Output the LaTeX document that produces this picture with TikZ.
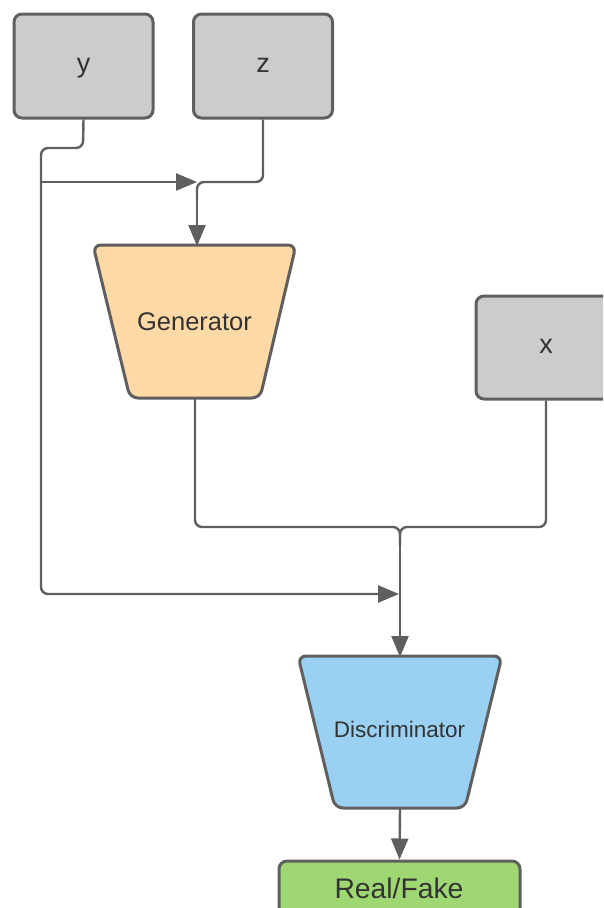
\documentclass[tikz,border=0pt]{standalone}
\usepackage{fontspec}
\setmainfont{Liberation Sans}
\usetikzlibrary{arrows.meta}
\definecolor{edge}{HTML}{5F5F5F}
\definecolor{inbox}{HTML}{CCCCCC}
\definecolor{genfill}{HTML}{FFD9A6}
\definecolor{disfill}{HTML}{9AD1F2}
\definecolor{outfill}{HTML}{9FD872}
\definecolor{txt}{HTML}{333333}
\tikzset{
  inputbox/.style={draw=edge, fill=inbox, line width=3pt, rounded corners=8pt,
    minimum width=139pt, minimum height=104pt, inner sep=0pt},
  netshape/.style={draw=edge, line width=3pt, rounded corners=8pt},
  wire/.style={draw=edge, line width=2.4pt, rounded corners=7pt},
  arrowwire/.style={wire, -{Triangle[length=21pt,width=17pt]}},
  lbl/.style={text=txt, inner sep=0pt, anchor=base}
}
\begin{document}
\begin{tikzpicture}[x=1pt,y=-1pt]
\useasboundingbox (0,0) rectangle (603,908);
\begin{scope}
\clip (0,0) rectangle (603,908);
% input boxes
\node[inputbox] (ybox) at (83.5,66) {};
\node[lbl, font=\fontsize{27}{30}\selectfont] (y) at (83.5,72) {y};
\node[inputbox] (zbox) at (263,66) {};
\node[lbl, font=\fontsize{27}{30}\selectfont] (z) at (263,72) {z};
\node[inputbox, minimum width=140pt, minimum height=103pt] (xbox) at (546,347.5) {};
\node[lbl, font=\fontsize{27}{30}\selectfont] (x) at (546,353) {x};
% generator
\draw[netshape, fill=genfill] (93,245) -- (296,245) -- (260,398) -- (130,398) -- cycle;
\coordinate (gentop) at (197,245);
\coordinate (genbot) at (195,398);
\node[lbl, font=\fontsize{25.5}{30}\selectfont] (gen) at (194.5,330) {Generator};
% discriminator
\draw[netshape, fill=disfill] (298,656) -- (502,656) -- (465,808) -- (335,808) -- cycle;
\coordinate (distop) at (400,656);
\coordinate (disbot) at (400,808);
\node[lbl, font=\fontsize{22.5}{26}\selectfont] (dis) at (399.5,737) {Discriminator};
% output
\node[inputbox, fill=outfill, minimum width=241pt, minimum height=57pt] (outbox) at (399.5,889.5) {};
\node[lbl, font=\fontsize{28.3}{32}\selectfont] (out) at (399,898) {Real/Fake};
% junction points
\coordinate (gj) at (197,182);
\coordinate (dj) at (400,527);
\coordinate (yj) at (41,182);
\coordinate (yd) at (399,594);
% condition y: to the generator and to the discriminator
\draw[arrowwire] (ybox.south) -- (83,148) -- (41,148) -- (41,594) -- (yd);
\draw[arrowwire] (yj) -- (gj);
% noise z into the generator
\draw[wire] (zbox.south) -- (263,182) -- (197,182) -- (197,200);
\draw[arrowwire] (197,190) -- ([yshift=-1pt]gentop);
% generated sample and real sample x into the discriminator
\draw[wire] (genbot) -- (195,527) -- (dj) -- (400,545);
\draw[wire] (xbox.south) -- (546,527) -- (dj) -- (400,545);
\draw[arrowwire] (400,535) -- ([yshift=-1pt]distop);
% discriminator to output
\draw[arrowwire] (disbot) -- (outbox.north);
\end{scope}
\end{tikzpicture}
\end{document}
